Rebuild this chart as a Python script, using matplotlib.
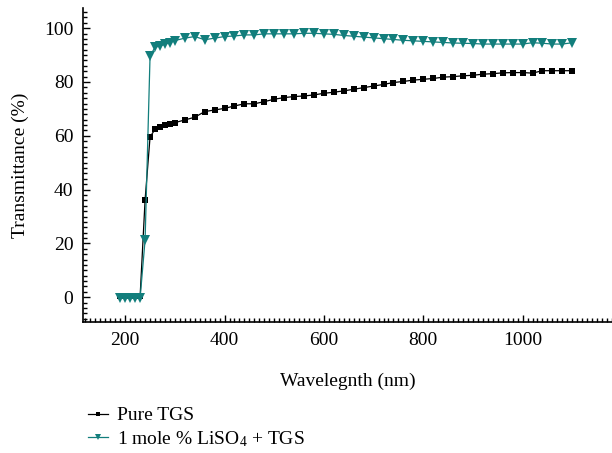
import matplotlib
matplotlib.use("Agg")
import matplotlib.pyplot as plt
from matplotlib.ticker import MultipleLocator

plt.rcParams['font.family'] = ['Liberation Serif', 'DejaVu Serif']
plt.rcParams['mathtext.fontset'] = 'custom'
plt.rcParams['mathtext.rm'] = 'Liberation Serif'
plt.rcParams['mathtext.it'] = 'Liberation Serif:italic'

wavelength = [190, 200, 210, 220, 230, 240, 250, 260, 270, 280, 290, 300,
              320, 340, 360, 380, 400, 420, 440, 460, 480, 500, 520, 540,
              560, 580, 600, 620, 640, 660, 680, 700, 720, 740, 760, 780,
              800, 820, 840, 860, 880, 900, 920, 940, 960, 980, 1000, 1020,
              1040, 1060, 1080, 1100]

pure_tgs = [0.3, 0.3, 0.3, 0.3, 0.4, 36.2, 59.6, 62.4, 63.2, 63.9, 64.4, 64.9,
            65.9, 66.9, 69.0, 69.6, 70.2, 71.1, 71.9, 71.9, 72.7, 73.6, 74.2, 74.6,
            74.8, 75.2, 75.8, 76.2, 76.7, 77.3, 77.9, 78.5, 79.1, 79.8, 80.2, 80.7,
            81.0, 81.3, 81.8, 82.0, 82.3, 82.5, 82.9, 83.1, 83.4, 83.5, 83.5, 83.3,
            84.2, 84.2, 84.2, 84.2]

doped_tgs = [-0.4, -0.4, -0.4, -0.4, -0.2, 21.3, 89.7, 92.9, 93.4, 94.0, 94.6, 95.4,
             96.3, 96.9, 95.7, 96.3, 96.9, 97.1, 97.5, 97.5, 97.9, 97.9, 97.9, 97.9,
             98.1, 98.1, 97.9, 97.7, 97.3, 97.0, 96.7, 96.4, 96.1, 95.8, 95.5, 95.3,
             95.1, 94.9, 94.7, 94.5, 94.4, 94.3, 94.1, 94.1, 94.1, 94.1, 94.1, 94.6,
             94.4, 94.1, 94.1, 94.6]

labels = ['Pure TGS', '1 mole % LiSO$_4$ + TGS']
teal = '#127e7c'

fig = plt.figure(figsize=(6.12, 4.53), dpi=100)
ax = fig.add_axes([83/612, 1-322/453, 1-83/612, (322-8)/453])

l1, = ax.plot(wavelength, pure_tgs, color='black', lw=0.9, marker='s',
              markersize=5, markeredgewidth=0, label=labels[0])
l2, = ax.plot(wavelength, doped_tgs, color=teal, lw=0.9, marker='v',
              markersize=7.5, markeredgewidth=0, label=labels[1])

ax.set_xlim(115, 1180)
ax.set_ylim(-9.2, 107.5)
ax.xaxis.set_major_locator(MultipleLocator(200))
ax.xaxis.set_minor_locator(MultipleLocator(10))
ax.yaxis.set_major_locator(MultipleLocator(20))
ax.yaxis.set_minor_locator(MultipleLocator(2))
ax.tick_params(which='both', direction='in', labelsize=14, width=1)
ax.tick_params(which='major', length=5, pad=7)
ax.tick_params(which='minor', length=3)
for s in ['top', 'right']:
    ax.spines[s].set_visible(False)
for s in ['left', 'bottom']:
    ax.spines[s].set_linewidth(1.2)

ax.set_xlabel('Wavelegnth (nm)', fontsize=14, labelpad=17)
ax.set_ylabel('Transmittance (%)', fontsize=14, labelpad=11)

fig.legend(handles=[l1, l2], loc='upper left', bbox_to_anchor=(80/612, 1-399/453),
           frameon=False, fontsize=14, handlelength=1.05, handletextpad=0.45,
           labelspacing=0.25, borderaxespad=0, markerscale=0.6)

fig.savefig('out.png', dpi=100)
